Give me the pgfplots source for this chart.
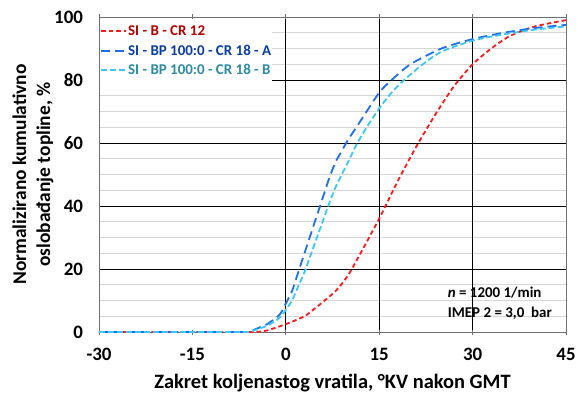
\documentclass[border=0pt]{standalone}
\usepackage{fontspec}
\setmainfont{Carlito}
\usepackage{pgfplots}
\pgfplotsset{compat=1.18}
\definecolor{cred}{HTML}{FF1A1A}
\definecolor{cblue}{HTML}{1F6FE8}
\definecolor{clight}{HTML}{3CC6F5}
\definecolor{tred}{HTML}{B00000}
\definecolor{tblue}{HTML}{0A3FA0}
\definecolor{tteal}{HTML}{2E8BA0}
\definecolor{frame}{HTML}{707070}
\pgfplotsset{
  redstyle/.style={draw=cred, line width=1.8bp, dash pattern=on 4.5bp off 3bp},
  bluestyle/.style={draw=cblue, line width=1.8bp, dash pattern=on 9bp off 5bp},
  lightstyle/.style={draw=clight, line width=1.8bp, dash pattern=on 6bp off 3bp},
}
\begin{document}
\begin{tikzpicture}
\begin{axis}[
  scale only axis, width=467bp, height=315bp,
  xmin=-30, xmax=45, ymin=0, ymax=100,
  xtick={-30,-15,...,45}, ytick={0,20,...,100},
  minor ytick={5,10,...,95},
  ymajorgrids, yminorgrids,
  major grid style={black, line width=0.9pt},
  minor grid style={black!16, line width=0.9pt},
  extra x ticks={0,15,30}, extra x tick labels={},
  extra x tick style={grid=major, major grid style={black, line width=0.9pt}},
  axis line style={frame, line width=0.9pt},
  xtick style={frame, line width=0.9pt}, tick align=center, major tick length=5bp,
  ytick style={draw=none},
  /pgf/number format/assume math mode=true,
  tick label style={font=\fontsize{19}{19}\selectfont\bfseries},
  yticklabel style={xshift=-10bp},
  xticklabel style={yshift=-10bp},
  xlabel={Zakret koljenastog vratila, °KV nakon GMT},
  xlabel style={font=\fontsize{20.5}{20}\selectfont\bfseries, yshift=-2bp},
  ylabel={Normalizirano kumulativno\\oslobađanje topline, \%},
  every axis y label/.style={at={(axis description cs:-0.1413,0.5)}, rotate=90, anchor=center},
  ylabel style={font=\fontsize{19.5}{24}\selectfont\bfseries, align=center},
  legend style={at={(0.002,0.988)}, anchor=north west, draw=none, fill=white,
    font=\fontsize{15}{15}\selectfont\bfseries, row sep=4bp, inner ysep=2.5bp, inner xsep=0bp,
    nodes={inner xsep=1bp}},
  legend cell align=left,
  legend image code/.code={\draw[#1, line width=2bp] (0bp,0bp) -- (25bp,0bp);},
]
\addplot[redstyle, smooth, tension=0.4, forget plot] coordinates {
(-30,0) (-10,0) (-5,0) (-3,0.5) (0,2.5) (3,5) (5,8) (8,13) (10,18) (12,25) (15,36) (18,48) (21,59) (24,69) (27,78) (30,85) (33,90) (36,94) (40,97) (45,99)};
\addplot[bluestyle, smooth, tension=0.4, forget plot] coordinates {
(-30,0) (-10,0) (-6,0) (-5,0.8) (-3,2.5) (-1,5.5) (0,9) (1,13) (2,19) (3,25) (4,31) (5,37) (6,43) (7,49) (8,54) (9,57.5) (10,61) (12,67) (15,76) (17,80) (20,85) (25,90) (30,93) (35,95) (40,96.5) (45,97.5)};
\addplot[lightstyle, smooth, tension=0.4, forget plot] coordinates {
(-30,0) (-10,0) (-6,0) (-5,0.6) (-3,2) (-1,4.5) (0,7) (1,10) (2,14.5) (3,19) (4,24.5) (5,30) (6,35.5) (7,41) (8,46) (9,50) (10,54) (11.5,60) (13,65) (15,71) (17,76) (19,80) (22,85) (25,89) (30,92.5) (35,94.5) (40,96) (45,97)};
\addlegendimage{redstyle}
\addlegendentry{\textcolor{tred}{SI - B - CR 12}}
\addlegendimage{bluestyle}
\addlegendentry{\textcolor{tblue}{SI - BP 100:0 - CR 18 - A}}
\addlegendimage{lightstyle}
\addlegendentry{\textcolor{tteal}{SI - BP 100:0 - CR 18 - B}}
\node[anchor=north west, align=left, font=\fontsize{15}{20}\selectfont\bfseries, inner sep=0pt] at (axis cs:26,14.3) {\textit{n} = 1200 1/min\\IMEP 2 = 3,0\ \ bar};
\end{axis}
\pgfresetboundingbox
\path ([xshift=-99bp,yshift=-71bp]current axis.south west) rectangle ([xshift=12bp,yshift=17bp]current axis.north east);
\end{tikzpicture}
\end{document}
